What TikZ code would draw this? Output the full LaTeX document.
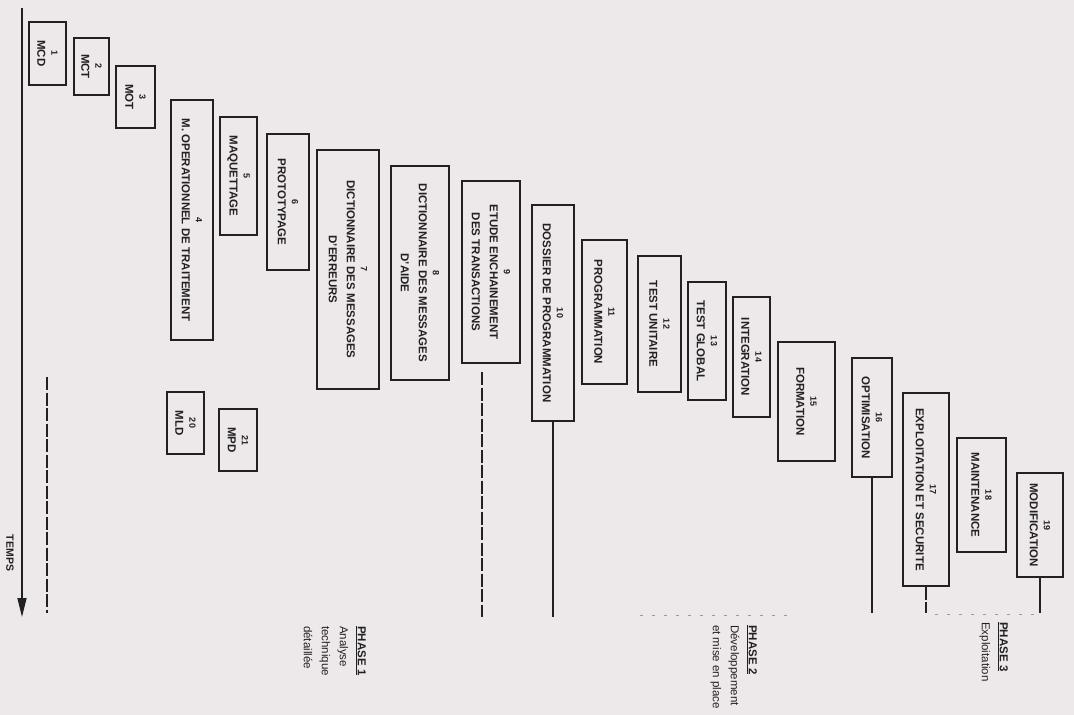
\documentclass[tikz,border=0pt]{standalone}
\usepackage{fontspec}
\setmainfont{Liberation Sans}
\setsansfont{Liberation Sans}
\usetikzlibrary{arrows.meta}
\definecolor{paper}{RGB}{237,233,234}
\definecolor{ink}{RGB}{34,32,34}
\newcommand{\nb}[1]{{\fontsize{9}{9}\selectfont #1}\\[-4pt]}
\begin{document}
\begin{tikzpicture}[x=1pt,y=-1pt,
  bx/.style={draw=ink, line width=1.4pt, rotate=-90, align=center, inner sep=0pt, text=ink,
    font=\bfseries\fontsize{11.5}{18}\selectfont},
  phase/.style={rotate=-90, anchor=north west, align=left, inner sep=0pt, text=ink,
    font=\fontsize{11.5}{18}\selectfont},
  link/.style={draw=ink, line width=1.4pt},
  dlink/.style={draw=ink, line width=1.4pt, dash pattern=on 13pt off 2.5pt},
  faint/.style={draw=ink!45, line width=0.9pt, dash pattern=on 3pt off 9pt}]
\fill[paper] (0,0) rectangle (1074,715);
\useasboundingbox (0,0) rectangle (1074,715);

% boxes
\node[bx, minimum width=63,  minimum height=37] (b1)  at (47.5,53.5)  {\nb{1}MCD};
\node[bx, minimum width=57,  minimum height=35] (b2)  at (91.5,66.5)  {\nb{2}MCT};
\node[bx, minimum width=62,  minimum height=39] (b3)  at (135.5,97)   {\nb{3}MOT};
\node[bx, minimum width=240, minimum height=42] (b4)  at (192,220)    {\nb{4}M. OPERATIONNEL DE TRAITEMENT};
\node[bx, minimum width=118, minimum height=37] (b5)  at (238.5,176)  {\nb{5}MAQUETTAGE};
\node[bx, minimum width=136, minimum height=42] (b6)  at (288,202)    {\nb{6}PROTOTYPAGE};
\node[bx, minimum width=239, minimum height=62] (b7)  at (348,269.5)  {\nb{7}DICTIONNAIRE DES MESSAGES\\D'ERREURS};
\node[bx, minimum width=214, minimum height=58] (b8)  at (420,273)    {\nb{8}DICTIONNAIRE DES MESSAGES\\D'AIDE};
\node[bx, minimum width=182, minimum height=58] (b9)  at (491,272)    {\nb{9}ETUDE ENCHAINEMENT\\DES TRANSACTIONS};
\node[bx, minimum width=216, minimum height=42] (b10) at (553,313)    {\nb{10}DOSSIER DE PROGRAMMATION};
\node[bx, minimum width=144, minimum height=45] (b11) at (604.5,312)  {\nb{11}PROGRAMMATION};
\node[bx, minimum width=136, minimum height=43] (b12) at (659.5,324)  {\nb{12}TEST UNITAIRE};
\node[bx, minimum width=118, minimum height=38] (b13) at (707,341)    {\nb{13}TEST GLOBAL};
\node[bx, minimum width=120, minimum height=37] (b14) at (751.5,357)  {\nb{14}INTEGRATION};
\node[bx, minimum width=119, minimum height=57] (b15) at (806.5,401.5){\nb{15}FORMATION};
\node[bx, minimum width=119, minimum height=40] (b16) at (872,417.5)  {\nb{16}OPTIMISATION};
\node[bx, minimum width=193, minimum height=46] (b17) at (926,489.5)  {\nb{17}EXPLOITATION ET SECURITE};
\node[bx, minimum width=114, minimum height=49] (b18) at (981.5,495)  {\nb{18}MAINTENANCE};
\node[bx, minimum width=104, minimum height=46] (b19) at (1040,525)   {\nb{19}MODIFICATION};
\node[bx, minimum width=62,  minimum height=37] (b20) at (185.5,423)  {\nb{20}MLD};
\node[bx, minimum width=62,  minimum height=38] (b21) at (238,440)    {\nb{21}MPD};

% time axis
\coordinate (t0) at (22,8);
\coordinate (t1) at (22,617);
\draw[link, -{Triangle[width=9pt,length=19pt]}] (t0) -- (t1);
\node[rotate=-90, text=ink, inner sep=0pt, font=\bfseries\fontsize{10.5}{12}\selectfont] (temps) at (10,553) {TEMPS};

% phase separators
\coordinate (s0a) at (47,377);  \coordinate (s0b) at (47,613);
\draw[dlink] (s0a) -- (s0b);
\coordinate (s9a) at (482,372); \coordinate (s9b) at (482,617);
\draw[dlink] (s9a) -- (s9b);
\coordinate (e10) at (553,617);
\draw[link] (b10.east) -- (e10);
\coordinate (e16) at (872,613);
\draw[link] (b16.east) -- (e16);
\coordinate (e17) at (926,613);
\draw[dlink] (b17.east) -- (e17);
\coordinate (e19) at (1040,613);
\draw[link] (b19.east) -- (e19);
\coordinate (h0) at (640,615); \coordinate (h1) at (790,615);
\draw[faint] (h0) -- (h1);
\coordinate (h2) at (935,614); \coordinate (h3) at (1040,614);
\draw[faint] (h2) -- (h3);

% phase labels
\node[phase] (p1) at (366,626) {\textbf{\underline{PHASE 1}}\\Analyse\\technique\\détaillée};
\node[phase] (p2) at (757,625) {\textbf{\underline{PHASE 2}}\\Développement\\et mise en place};
\node[phase] (p3) at (1008,622) {\textbf{\underline{PHASE 3}}\\Exploitation};
\end{tikzpicture}
\end{document}
